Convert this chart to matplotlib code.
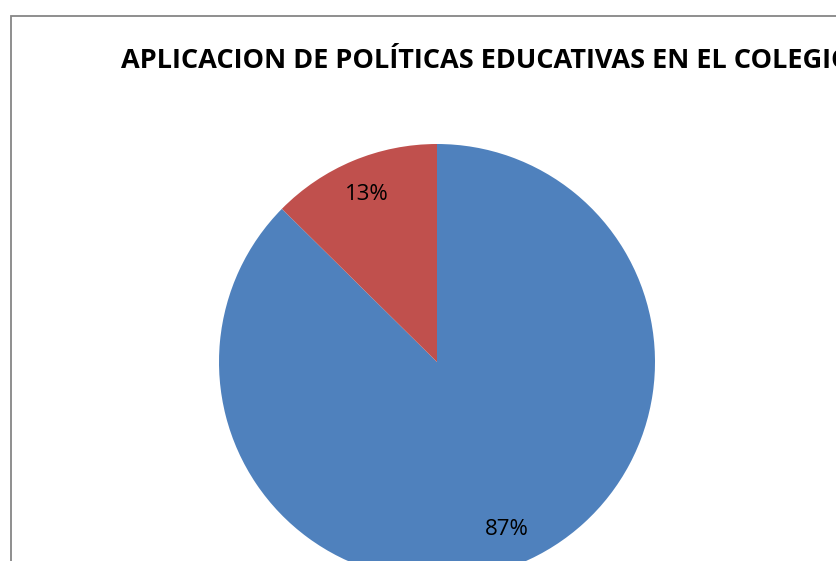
import matplotlib.pyplot as plt
from matplotlib.patches import Rectangle

# datos del grafico
categorias = ["Si", "No"]
valores = [87.4, 12.6]
colores = ["#4F81BD", "#C0504D"]
titulo = "APLICACION DE POLÍTICAS EDUCATIVAS EN EL COLEGIO"

W, H = 837, 561
fig = plt.figure(figsize=(W / 100, H / 100), dpi=100)

# borde del area del grafico (se sale por derecha y abajo)
borde = Rectangle((11.5 / W, -0.2), 1.5, 1 - 15.5 / H + 0.2, transform=fig.transFigure,
                  fill=False, edgecolor="#868686", linewidth=1.3)
fig.add_artist(borde)

fig.text(121 / W, 1 - 68 / H, titulo, ha="left", va="baseline",
         fontsize=19.5, fontweight="bold", family="Open Sans", color="black")

# torta: centro (437, 362) px, radio 218 px
cx, cy, r = 437, 362, 218
ax = fig.add_axes([(cx - r) / W, (H - cy - r) / H, 2 * r / W, 2 * r / H])
wedges, textos, autotextos = ax.pie(valores, colors=colores, startangle=90, counterclock=False,
                                    autopct="%1.0f%%", pctdistance=0.835, radius=1,
                                    wedgeprops={"linewidth": 0},
                                    textprops={"fontsize": 16, "family": "Open Sans"})
for w in wedges:
    w.set_clip_on(False)
ax.set_xlim(-1, 1)
ax.set_ylim(-1, 1)
ax.set_aspect("equal")
ax.axis("off")

fig.savefig("out.png", dpi=100)
